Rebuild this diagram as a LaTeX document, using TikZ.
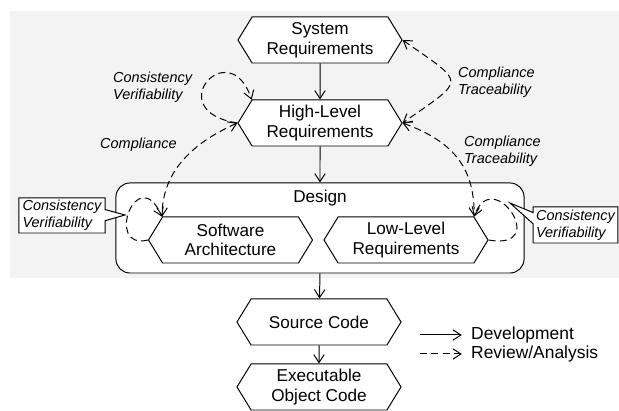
\documentclass[tikz,border=0pt]{standalone}
\usepackage{fontspec}
\setmainfont{Liberation Sans}
\usetikzlibrary{arrows.meta,positioning,calc,shapes.symbols,shapes.callouts}
\definecolor{panel}{gray}{0.953}

\begin{document}
\begin{tikzpicture}[x=0.025cm, y=0.025cm, line width=0.7pt,
    >={Straight Barb[length=2mm,width=2.6mm]},
    artifact/.style={draw, fill=white, signal, signal to=west and east,
        signal pointer angle=117, minimum width=4.1cm, minimum height=1.15cm,
        inner sep=0pt, align=center, font=\fontsize{12.2}{14}\selectfont},
    review/.style={dash pattern=on 5pt off 3pt},
    note/.style={align=left, font=\fontsize{10.3}{12}\selectfont\itshape},
    callbox/.style={rectangle callout, draw, fill=white, note,
        inner sep=1.5pt, callout pointer width=0.28cm}]
    \useasboundingbox (0,0) rectangle (619,411);
    % Background
    \fill[panel] (10,133) rectangle (619,400);

    % Artifacts
    \node[artifact] (sysreq) at (320,371) {System\\Requirements};
    \node[artifact] (hlreq) at (320,288) {High-Level\\Requirements};
    \node[draw, fill=white, rounded corners=0.35cm, minimum width=10.2cm,
        minimum height=2.25cm] (design) at (320,183) {};
    \node[font=\fontsize{12.2}{14}\selectfont] (designlbl) at (320,213) {Design};
    \node[artifact] (swarch) at (230.5,171) {Software\\Architecture};
    \node[artifact] (llreq) at (406,171) {Low-Level\\Requirements};
    \node[artifact] (srccode) at (319,89) {Source Code};
    \node[artifact] (execode) at (319,24) {Executable\\Object Code};

    % Development
    \draw[->] (sysreq) -- (hlreq);
    \draw[->] (hlreq) -- (design.north);
    \draw[->] (design.south) -- (srccode);
    \draw[->] (srccode) -- (execode);

    % Review/analysis
    \draw[review, <->] (sysreq.east) .. controls +(64,-45) and +(64,45) .. (hlreq.east);
    \draw[review, <->] (hlreq.east) .. controls +(55,-20) and +(0,45) .. (llreq.north east);
    \draw[review, <->] (hlreq.west) .. controls +(-45,-20) and +(0,45) .. (swarch.north west);
    \draw[review, ->] (hlreq.west) .. controls +(-78,12) and +(-22,67) .. (hlreq.north west);
    \draw[review, ->] (swarch.west) .. controls +(-44,-11) and +(-25,56) .. (swarch.north west);
    \draw[review, ->] (llreq.east) .. controls +(63,-11) and +(18,52) .. (llreq.north east);

    % Labels
    \node[note, anchor=west] (hlcheck) at (108,323.5) {Consistency\\Verifiability};
    \node[note, anchor=west] (swcomply) at (95,266) {Compliance};
    \node[note, anchor=west] (hltrace) at (453,328.5) {Compliance\\Traceability};
    \node[note, anchor=west] (lltrace) at (459,259.5) {Compliance\\Traceability};
    \node[callbox, callout absolute pointer={(125,196)}, minimum width=2.15cm,
        minimum height=0.875cm] (swcheck) at (62,195.5) {Consistency\\Verifiability};
    \node[callbox, callout absolute pointer={(510,208)}, minimum width=2.12cm,
        minimum height=0.9cm] (llcheck) at (575.5,186) {Consistency\\Verifiability};

    % Legend
    \coordinate (devfrom) at (420,76);
    \coordinate (revfrom) at (420,57);
    \node[anchor=west, font=\fontsize{12.4}{14}\selectfont] (devtext) at (466,76) {Development};
    \node[anchor=west, font=\fontsize{12.4}{14}\selectfont] (revtext) at (466,57) {Review/Analysis};
    \draw[->, shorten >=3pt] (devfrom) -- (devtext);
    \draw[review, ->, shorten >=3pt] (revfrom) -- (revtext);
\end{tikzpicture}
\end{document}
